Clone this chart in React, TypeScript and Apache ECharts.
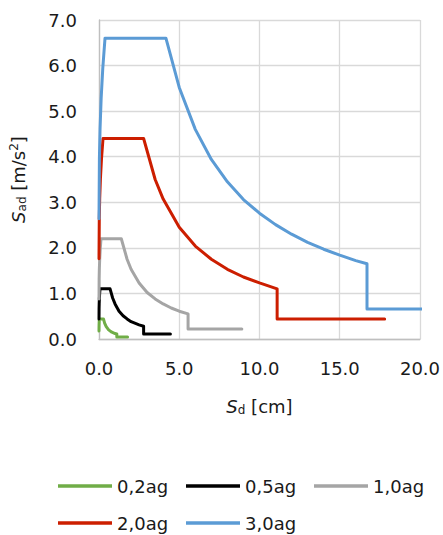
import React, { useEffect, useRef } from "react";
import * as echarts from "echarts";

const seriesNames = ["0,2ag", "0,5ag", "1,0ag", "2,0ag", "3,0ag"];
const seriesColors = ["#70AD47", "#000000", "#A5A5A5", "#CC1E00", "#5B9BD5"];

// 0,2ag
const sd02 = [0, 0.0017, 0.0044, 0.0089, 0.0157, 0.025, 0.278, 0.35, 0.45, 0.6, 0.8, 1.0, 1.11, 1.11, 1.78];
const sa02 = [0.176, 0.264, 0.308, 0.352, 0.396, 0.44, 0.44, 0.35, 0.27, 0.2, 0.15, 0.12, 0.11, 0.044, 0.044];
// 0,5ag
const sd05 = [0, 0.004, 0.011, 0.022, 0.039, 0.0625, 0.69, 0.85, 1, 1.25, 1.5, 1.75, 2, 2.5, 2.78, 2.78, 4.45];
const sa05 = [0.44, 0.66, 0.77, 0.88, 0.99, 1.1, 1.1, 0.9, 0.77, 0.61, 0.51, 0.44, 0.38, 0.31, 0.28, 0.11, 0.11];
// 1,0ag
const sd10 = [0, 0.008, 0.022, 0.045, 0.078, 0.125, 1.39, 1.75, 2, 2.5, 3, 3.5, 4, 4.5, 5, 5.55, 5.55, 8.9];
const sa10 = [0.88, 1.32, 1.54, 1.76, 1.98, 2.2, 2.2, 1.75, 1.53, 1.23, 1.02, 0.88, 0.77, 0.68, 0.61, 0.55, 0.22, 0.22];
// 2,0ag
const sd20 = [0, 0.017, 0.044, 0.089, 0.157, 0.25, 2.78, 3.5, 4, 5, 6, 7, 8, 9, 10, 11.1, 11.1, 17.8];
const sa20 = [1.76, 2.64, 3.08, 3.52, 3.96, 4.4, 4.4, 3.5, 3.07, 2.45, 2.04, 1.75, 1.53, 1.36, 1.23, 1.1, 0.44, 0.44];
// 3,0ag
const sd30 = [0, 0.025, 0.066, 0.134, 0.235, 0.375, 4.17, 5, 6, 7, 8, 9, 10, 11, 12, 13, 14, 15, 16, 16.7, 16.7, 26.7];
const sa30 = [2.64, 3.96, 4.62, 5.28, 5.94, 6.6, 6.6, 5.52, 4.6, 3.94, 3.45, 3.06, 2.76, 2.51, 2.3, 2.12, 1.97, 1.84, 1.72, 1.65, 0.66, 0.66];

const sdSets = [sd02, sd05, sd10, sd20, sd30];
const saSets = [sa02, sa05, sa10, sa20, sa30];

const FONT = "DejaVu Sans";

export default function App() {
  const ref = useRef<HTMLDivElement>(null);
  useEffect(() => {
    if (!ref.current) return;
    const chart = echarts.init(ref.current, null, { renderer: "svg" });
    const series = seriesNames.map((name, i) => ({
      name,
      type: "line",
      data: sdSets[i].map((x, j) => [x, saSets[i][j]]),
      showSymbol: false,
      symbol: "none",
      lineStyle: { color: seriesColors[i], width: 3, join: "round", cap: "round" },
      itemStyle: { color: seriesColors[i] },
      clip: true,
      z: 2 + i,
    }));
    chart.setOption({
      animation: false,
      textStyle: { fontFamily: FONT },
      grid: { left: 95, right: 23, top: 20, bottom: 196, containLabel: false },
      xAxis: {
        type: "value",
        min: 0,
        max: 20,
        interval: 5,
        name: "{i|S}{sub|d} [cm]",
        nameLocation: "middle",
        nameGap: 56,
        nameTextStyle: {
          fontFamily: FONT,
          fontSize: 18,
          color: "#1a1a1a",
          rich: {
            i: { fontFamily: FONT, fontSize: 18, fontStyle: "italic", color: "#1a1a1a", lineHeight: 22 },
            sub: { fontFamily: FONT, fontSize: 12, color: "#1a1a1a", lineHeight: 12, padding: [8, 0, 0, 0] },
          },
        },
        axisLine: { show: true, lineStyle: { color: "#BFBFBF", width: 1.3 } },
        axisTick: { show: false },
        splitLine: { show: true, lineStyle: { color: "#D9D9D9", width: 1.3 } },
        axisLabel: {
          fontFamily: FONT,
          fontSize: 18,
          color: "#1a1a1a",
          margin: 20,
          formatter: (v: number) => v.toFixed(1),
        },
      },
      yAxis: {
        type: "value",
        min: 0,
        max: 7,
        interval: 1,
        name: "{i|S}{sub|ad} [m/s{sup|2}]",
        nameLocation: "middle",
        nameGap: 70,
        nameRotate: 90,
        nameTextStyle: {
          fontFamily: FONT,
          fontSize: 18,
          color: "#1a1a1a",
          rich: {
            i: { fontFamily: FONT, fontSize: 18, fontStyle: "italic", color: "#1a1a1a", lineHeight: 22 },
            sub: { fontFamily: FONT, fontSize: 12, color: "#1a1a1a", lineHeight: 12, padding: [8, 0, 0, 0] },
            sup: { fontFamily: FONT, fontSize: 12, color: "#1a1a1a", lineHeight: 12, padding: [0, 0, 8, 0] },
          },
        },
        axisLine: { show: true, lineStyle: { color: "#BFBFBF", width: 1.3 } },
        axisTick: { show: false },
        splitLine: { show: true, lineStyle: { color: "#D9D9D9", width: 1.3 } },
        axisLabel: {
          fontFamily: FONT,
          fontSize: 18,
          color: "#1a1a1a",
          margin: 22,
          formatter: (v: number) => v.toFixed(1),
        },
      },
      legend: {
        left: 53,
        top: 471,
        width: 380,
        icon: "rect",
        itemWidth: 54,
        itemHeight: 3.5,
        itemGap: 17,
        data: seriesNames,
        textStyle: { fontFamily: FONT, fontSize: 18, color: "#1a1a1a", width: 52, lineHeight: 20 },
      },
      series,
    });
    return () => chart.dispose();
  }, []);
  return <div ref={ref} style={{ width: 443, height: 535, position: "absolute", left: 0, top: 0 }} />;
}
